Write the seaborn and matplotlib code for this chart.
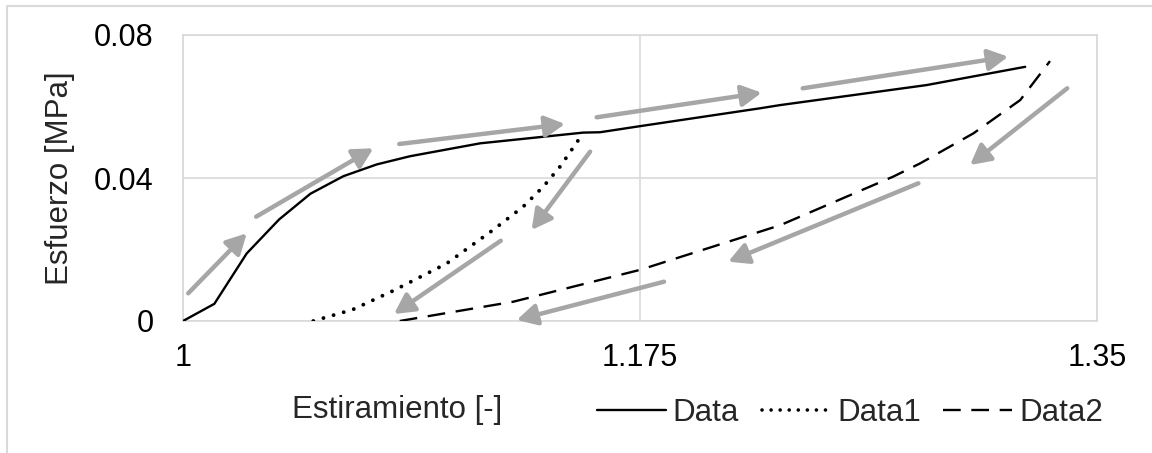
import matplotlib
matplotlib.use("Agg")
import matplotlib.pyplot as plt
import seaborn as sns
import pandas as pd
from matplotlib.lines import Line2D

# Loading curve
data_x = [1.0, 1.012, 1.0244, 1.0368, 1.0488, 1.0614, 1.0742, 1.087, 1.1138,
          1.1533, 1.1597, 1.175, 1.221, 1.2287, 1.2848, 1.3225]
data_y = [0.0, 0.0048, 0.0189, 0.0284, 0.0356, 0.0405, 0.0438, 0.0461, 0.0497,
          0.0527, 0.0528, 0.0545, 0.0595, 0.0604, 0.0660, 0.0711]

# First unloading curve
data1_x = [1.0499, 1.065, 1.0806, 1.101, 1.1188, 1.1303, 1.138, 1.1444, 1.1514, 1.1533]
data1_y = [0.0, 0.0032, 0.0085, 0.0161, 0.0255, 0.0320, 0.0376, 0.0432, 0.0506, 0.0527]

# Second unloading curve
data2_x = [1.083, 1.1265, 1.175, 1.2287, 1.272, 1.2823, 1.3027, 1.3206, 1.332]
data2_y = [0.0, 0.0054, 0.0143, 0.0268, 0.0404, 0.0441, 0.0525, 0.0618, 0.0727]

series_names = ["Data", "Data1", "Data2"]
x_ticks = [1.0, 1.175, 1.35]
x_tick_labels = ["1", "1.175", "1.35"]
y_ticks = [0.0, 0.04, 0.08]
y_tick_labels = ["0", "0.04", "0.08"]

# Direction arrows (start x, start y, end x, end y)
arrows = [
    (1.0020, 0.00775, 1.0244, 0.02453),
    (1.0280, 0.02917, 1.0729, 0.04831),
    (1.0828, 0.04951, 1.1463, 0.05510),
    (1.1584, 0.05698, 1.2216, 0.06386),
    (1.2373, 0.06509, 1.3160, 0.07393),
    (1.3386, 0.06509, 1.3014, 0.04364),
    (1.2816, 0.03852, 1.2088, 0.01659),
    (1.1842, 0.01099, 1.1278, 0.00028),
    (1.1559, 0.04736, 1.1335, 0.02545),
    (1.1217, 0.02246, 1.0808, 0.00196),
]

sns.set_style("white")
plt.rcParams["font.family"] = ["Liberation Sans", "DejaVu Sans"]

W, H = 1152, 453
fig = plt.figure(figsize=(W / 100, H / 100), dpi=100)
ax = fig.add_axes([183 / W, (H - 321) / H, (1097 - 183) / W, (321 - 35) / H])

grid_c = "#D9D9D9"
arrow_c = "#A6A6A6"

df0 = pd.DataFrame({"x": data_x, "y": data_y})
df1 = pd.DataFrame({"x": data1_x, "y": data1_y})
df2 = pd.DataFrame({"x": data2_x, "y": data2_y})

dot_style = (0, (0.01, 2.7))
dash_style = (0, (7.5, 4.5))

sns.lineplot(data=df0, x="x", y="y", ax=ax, sort=False, color="black", lw=1.7,
             estimator=None, zorder=3)
sns.lineplot(data=df1, x="x", y="y", ax=ax, sort=False, color="black", lw=2.8,
             estimator=None, zorder=3, linestyle=dot_style,
             dash_capstyle="round")
sns.lineplot(data=df2, x="x", y="y", ax=ax, sort=False, color="black", lw=1.7,
             estimator=None, zorder=3, linestyle=dash_style)

for x0, y0, x1, y1 in arrows:
    ax.annotate("", xy=(x1, y1), xytext=(x0, y0),
                arrowprops=dict(arrowstyle="-|>,head_length=0.6,head_width=0.32",
                                mutation_scale=20, color=arrow_c, lw=3.2,
                                shrinkA=0, shrinkB=0),
                zorder=4)

ax.set_xlim(1.0, 1.35)
ax.set_ylim(0.0, 0.08)
ax.set_xticks(x_ticks)
ax.set_xticklabels(x_tick_labels)
ax.set_yticks(y_ticks)
ax.set_yticklabels(y_tick_labels)
ax.tick_params(axis="both", length=0, labelsize=22, colors="black")
ax.tick_params(axis="x", pad=16)
ax.tick_params(axis="y", pad=21)
ax.grid(True, color=grid_c, lw=1.2)
ax.set_axisbelow(True)
for s in ax.spines.values():
    s.set_color(grid_c)
    s.set_linewidth(1.2)

ax.set_ylabel("Esfuerzo [MPa]", fontsize=22.5, labelpad=14)
ax.set_xlabel("Estiramiento [-]", fontsize=22.5)
ax.xaxis.set_label_coords((397 - 183) / (1097 - 183), (321 - 410) / (321 - 35))
ax.xaxis.label.set_va("center")

handles = [
    Line2D([], [], color="black", lw=1.7),
    Line2D([], [], color="black", lw=2.6, linestyle=(0, (0.01, 2.5)),
           dash_capstyle="round"),
    Line2D([], [], color="black", lw=1.7, linestyle=(0, (7.5, 4.5))),
]
fig.legend(handles, series_names, loc="center left",
           bbox_to_anchor=(597 / W, 1 - 413 / H), ncol=3, frameon=False,
           fontsize=22.5, handlelength=2.2, handletextpad=0.22,
           columnspacing=0.72, borderpad=0, borderaxespad=0)

# Light outer frame on the top and left edges
fig.add_artist(Line2D([7 / W, 7 / W, 1.0], [0.0, 1 - 6 / H, 1 - 6 / H],
                      transform=fig.transFigure, color=grid_c, lw=1.5))

fig.savefig("out.png", dpi=100)
